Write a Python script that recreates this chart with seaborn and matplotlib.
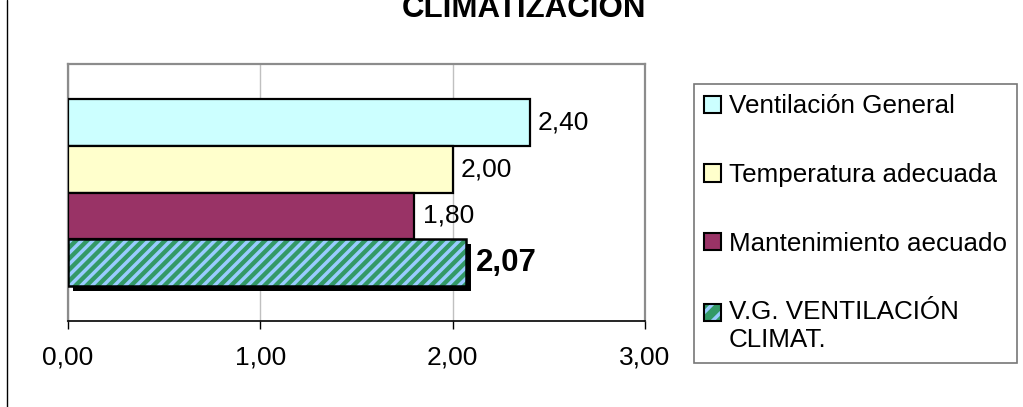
import numpy as np
import pandas as pd
import matplotlib
matplotlib.use("Agg")
import matplotlib.pyplot as plt
import matplotlib.transforms as mtransforms
from matplotlib.lines import Line2D
from matplotlib.patches import Patch
from matplotlib.legend_handler import HandlerTuple
import seaborn as sns

# data
series = ['Ventilación General', 'Temperatura adecuada', 'Mantenimiento aecuado', 'V.G. VENTILACIÓN CLIMAT.']
legend_labels = ['Ventilación General', 'Temperatura adecuada', 'Mantenimiento aecuado', 'V.G. VENTILACIÓN\nCLIMAT.']
values = [2.40, 2.00, 1.80, 2.07]
colors = ['#CCFFFF', '#FFFFCC', '#993366', '#339966']
stripe_color = '#99CCFF'
x_ticks = [0, 1, 2, 3]


def comma(v):
    return f"{v:.2f}".replace('.', ',')


# legend key sitting on the first line of a two-line label
class FirstLineTuple(HandlerTuple):
    def create_artists(self, legend, orig_handle, xdescent, ydescent,
                       width, height, fontsize, trans):
        return super().create_artists(legend, orig_handle, xdescent,
                                      ydescent - 0.55 * fontsize,
                                      width, height, fontsize, trans)


sns.set_style('white')
plt.rcParams['font.family'] = ['Liberation Sans', 'DejaVu Sans']
plt.rcParams['text.color'] = 'black'
plt.rcParams['xtick.color'] = 'black'
plt.rcParams['xtick.labelcolor'] = 'black'
plt.rcParams['hatch.linewidth'] = 2.5

fig = plt.figure(figsize=(10.23, 4.07), dpi=100)
ax = fig.add_axes([68 / 1023, 1 - 321 / 407, (645 - 68) / 1023, (321 - 64) / 407])

df = pd.DataFrame({'serie': series, 'valor': values})
sns.barplot(data=df, x='valor', y='serie', hue='serie', order=series, hue_order=series,
            palette=colors, orient='h', width=1.0, ax=ax, legend=False,
            edgecolor='black', linewidth=1.6, saturation=1)

bars = ax.patches
last = bars[3]
last.set_facecolor(colors[3])
last.set_edgecolor(stripe_color)
last.set_hatch('///')
last.set_linewidth(0)
last.set_zorder(3)

# black outline on top of the striped bar
outline = ax.barh(3, values[3], height=1.0, fill=False, edgecolor='black', linewidth=1.8, zorder=4)
# shadow behind it
shift = mtransforms.ScaledTranslation(5 / 100, -5 / 100, fig.dpi_scale_trans)
shadow = ax.barh(3, values[3], height=1.0, color='black', linewidth=0, zorder=2)
for p in shadow:
    p.set_transform(ax.transData + shift)
for p in bars[:3]:
    p.set_zorder(3)

for i, v in enumerate(values):
    if i == 3:
        ax.annotate(comma(v), xy=(v, i), xytext=(7, 0), textcoords='offset points',
                    va='center', ha='left', fontsize=22.5, fontweight='bold')
    else:
        ax.annotate(comma(v), xy=(v, i), xytext=(6, 0), textcoords='offset points',
                    va='center', ha='left', fontsize=19)

ax.set_xlim(0, 3)
ax.set_ylim(3.5 + 0.75, -0.5 - 0.75)
ax.set_xticks(x_ticks)
ax.set_xticklabels([comma(t) for t in x_ticks])
ax.set_yticks([])
ax.set_xlabel('')
ax.set_ylabel('')
ax.tick_params(axis='x', direction='out', length=6, width=1, color='black',
               labelsize=19, pad=12, bottom=True)
ax.set_axisbelow(True)
ax.grid(axis='x', color='#C0C0C0', linewidth=1)
ax.grid(axis='y', visible=False)
for side in ['left', 'top', 'right']:
    ax.spines[side].set_color('#8C8C8C')
    ax.spines[side].set_linewidth(1.6)
ax.spines['bottom'].set_color('black')
ax.spines['bottom'].set_linewidth(1.2)

handles = [Patch(facecolor=c, edgecolor='black', linewidth=1.5) for c in colors[:3]]
vg_handle = (Patch(facecolor=colors[3], edgecolor=stripe_color, hatch='//', linewidth=0),
             Patch(fill=False, edgecolor='black', linewidth=1.5))
handles.append(vg_handle)
leg = fig.legend(handles, legend_labels, loc='upper left',
                 bbox_to_anchor=(694 / 1023, 1 - 84 / 407), bbox_transform=fig.transFigure,
                 fontsize=18.7, frameon=True, fancybox=False, shadow=False,
                 handlelength=0.65, handleheight=0.65, handletextpad=0.3,
                 labelspacing=1.72, borderpad=0.4, borderaxespad=0,
                 handler_map={vg_handle: FirstLineTuple(ndivide=1)})
leg.get_frame().set_edgecolor('#555555')
leg.get_frame().set_linewidth(1.2)

fig.text(524 / 1023, 1 - 17 / 407, 'CLIMATIZACIÓN', ha='center', va='baseline',
         fontsize=22.5, fontweight='bold')
fig.add_artist(Line2D([7 / 1023, 7 / 1023], [0, 1], transform=fig.transFigure,
                      color='black', linewidth=1))

fig.savefig('out.png', dpi=100)
